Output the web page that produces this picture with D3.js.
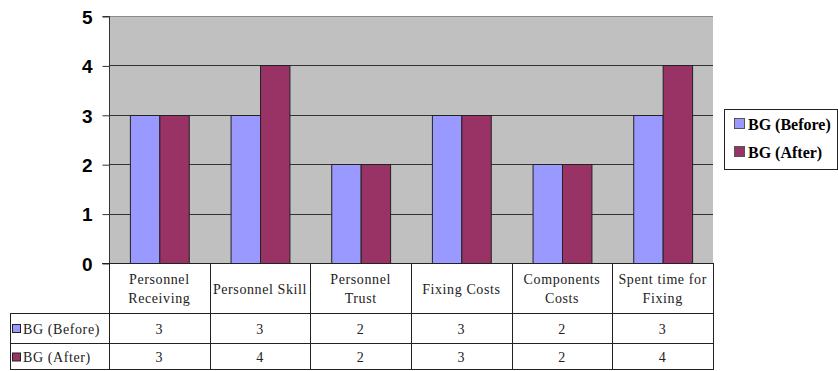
<!DOCTYPE html>
<html>
<head>
<meta charset="utf-8">
<script src="https://cdn.jsdelivr.net/npm/d3@7"></script>
<style>
  html, body { margin: 0; padding: 0; background: #fff; }
  svg { display: block; }
</style>
</head>
<body>
<svg id="chart" width="838" height="371"></svg>
<script>
// Categories (header lines for the data table) and series values
const categories = [
  ["Personnel", "Receiving"],
  ["Personnel Skill"],
  ["Personnel", "Trust"],
  ["Fixing Costs"],
  ["Components", "Costs"],
  ["Spent time for", "Fixing"]
];
const seriesNames = ["BG (Before)", "BG (After)"];
const beforeValues = [3, 3, 2, 3, 2, 3];
const afterValues  = [3, 4, 2, 3, 2, 4];
const yTicks = [0, 1, 2, 3, 4, 5];
const seriesColors = ["#9999FF", "#993366"];

const series = [beforeValues, afterValues];
const SERIF = "Liberation Serif";
const SANS = "Liberation Sans";

const svg = d3.select("#chart");
const plot = { left: 109, right: 713, top: 16, bottom: 263 };

const x = d3.scaleBand()
  .domain(d3.range(categories.length))
  .range([plot.left, plot.right])
  .paddingInner(0).paddingOuter(0);

const xInner = d3.scaleBand()
  .domain(d3.range(series.length))
  .range([0, x.bandwidth()])
  .paddingOuter(0.71).paddingInner(0);

const y = d3.scaleLinear().domain([0, 5]).range([plot.bottom, plot.top]);

// Plot background
svg.append("rect")
  .attr("x", plot.left).attr("y", plot.top)
  .attr("width", plot.right - plot.left).attr("height", plot.bottom - plot.top)
  .attr("fill", "#C0C0C0");

// Gridlines
svg.append("g").selectAll("line")
  .data(yTicks.filter(d => d > 0 && d < 5))
  .join("line")
  .attr("x1", plot.left).attr("x2", plot.right)
  .attr("y1", d => Math.round(y(d)) + 0.5).attr("y2", d => Math.round(y(d)) + 0.5)
  .attr("stroke", "#333").attr("stroke-width", 1);

// Top edge line (light)
svg.append("line")
  .attr("x1", plot.left).attr("x2", plot.right)
  .attr("y1", plot.top + 0.5).attr("y2", plot.top + 0.5)
  .attr("stroke", "#8a8a8a");

// Bars
const groups = svg.append("g").selectAll("g")
  .data(categories.map((c, i) => i))
  .join("g")
  .attr("transform", i => `translate(${x(i)},0)`);

groups.selectAll("rect")
  .data(i => series.map((s, k) => ({ k, v: s[i] })))
  .join("rect")
  .attr("x", d => xInner(d.k) + 0.5)
  .attr("y", d => Math.round(y(d.v)) + 0.5)
  .attr("width", xInner.bandwidth())
  .attr("height", d => Math.round(y(0)) - Math.round(y(d.v)))
  .attr("fill", d => seriesColors[d.k])
  .attr("stroke", "#222").attr("stroke-width", 1);

// Y axis
const yAxis = d3.axisLeft(y).tickValues(yTicks).tickSize(7).tickPadding(10).tickFormat(d3.format("d"));
const ya = svg.append("g")
  .attr("transform", `translate(${plot.left + 0.5},0.5)`)
  .call(yAxis);
ya.attr("font-family", SANS).attr("font-size", 19).attr("font-weight", "bold");
ya.select(".domain").attr("stroke", "#333").attr("d", `M-7,${plot.top}H0V${plot.bottom}H-7`);
ya.selectAll(".tick line").attr("stroke", "#333");
ya.selectAll(".tick text").attr("fill", "#000").attr("dy", "0.36em");

// Data table
const tbl = { left: 10, top: 263, r1: 313, r2: 343, bottom: 370 };
const tg = svg.append("g").attr("stroke", "#222").attr("stroke-width", 1);
const hl = (yy, x1, x2) => tg.append("line").attr("x1", x1).attr("x2", x2).attr("y1", yy + 0.5).attr("y2", yy + 0.5);
const vl = (xx, y1, y2) => tg.append("line").attr("x1", xx + 0.5).attr("x2", xx + 0.5).attr("y1", y1).attr("y2", y2);
hl(tbl.top, plot.left - 7, plot.right);
hl(tbl.r1, tbl.left, plot.right);
hl(tbl.r2, tbl.left, plot.right);
hl(tbl.bottom - 1, tbl.left, plot.right);
vl(tbl.left, tbl.r1, tbl.bottom);
d3.range(categories.length + 1).forEach(i => {
  const xx = i < categories.length ? Math.round(x(i)) : plot.right;
  vl(xx, tbl.top, tbl.bottom);
});

const textG = svg.append("g")
  .attr("font-family", SERIF).attr("font-size", 14)
  .attr("letter-spacing", 0.6).attr("fill", "#222");

// Header cells
categories.forEach((lines, i) => {
  const cx = x(i) + x.bandwidth() / 2;
  const cy = (tbl.top + tbl.r1) / 2 + 1;
  const lh = 19;
  lines.forEach((ln, j) => {
    textG.append("text")
      .attr("x", cx)
      .attr("y", cy + (j - (lines.length - 1) / 2) * lh)
      .attr("dy", "0.35em")
      .attr("text-anchor", "middle")
      .text(ln);
  });
});

// Value rows
const rowCenters = [(tbl.r1 + tbl.r2) / 2 + 1, (tbl.r2 + tbl.bottom) / 2 + 1];
series.forEach((vals, k) => {
  svg.append("rect")
    .attr("x", 12.5).attr("y", rowCenters[k] - 4.5)
    .attr("width", 8).attr("height", 8)
    .attr("fill", seriesColors[k]).attr("stroke", "#222");
  textG.append("text")
    .attr("x", 23).attr("y", rowCenters[k]).attr("dy", "0.35em")
    .text(seriesNames[k]);
  vals.forEach((v, i) => {
    textG.append("text")
      .attr("x", x(i) + x.bandwidth() / 2)
      .attr("y", rowCenters[k]).attr("dy", "0.35em")
      .attr("text-anchor", "middle")
      .text(v);
  });
});

// Legend
const lg = svg.append("g");
lg.append("rect")
  .attr("x", 724.5).attr("y", 109.5).attr("width", 113).attr("height", 60)
  .attr("fill", "#fff").attr("stroke", "#222");
seriesNames.forEach((name, k) => {
  const cy = 124 + k * 28;
  lg.append("rect")
    .attr("x", 734.5).attr("y", cy - 5.5).attr("width", 10).attr("height", 10)
    .attr("fill", seriesColors[k]).attr("stroke", "#555");
  lg.append("text")
    .attr("x", 748).attr("y", cy).attr("dy", "0.35em")
    .attr("font-family", SERIF).attr("font-weight", "bold").attr("font-size", 16)
    .attr("fill", "#000")
    .text(name);
});
</script>
</body>
</html>
